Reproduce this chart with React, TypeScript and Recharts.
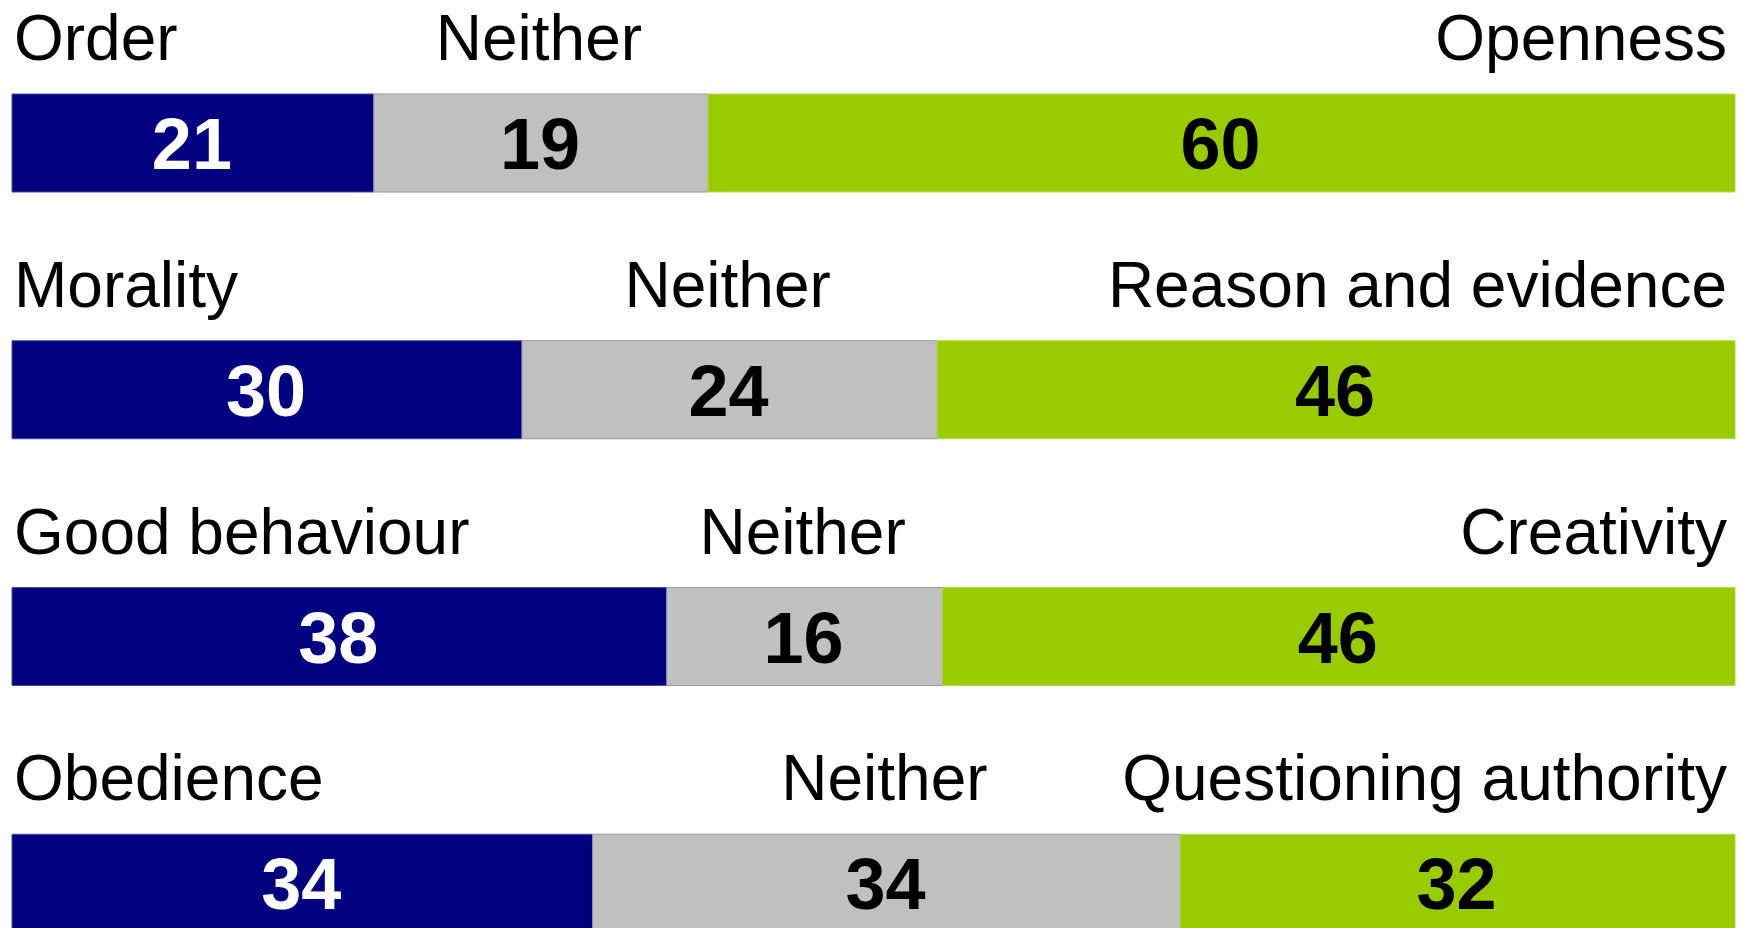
import React from 'react'
import { BarChart, Bar, XAxis, YAxis, LabelList } from 'recharts'

// left-hand option, right-hand option, per statement
const leftLabels = ['Order', 'Morality', 'Good behaviour', 'Obedience']
const rightLabels = ['Openness', 'Reason and evidence', 'Creativity', 'Questioning authority']
const middleLabel = 'Neither'

// shares in % (labels are rounded)
const leftValues = [21.0, 29.6, 38.0, 33.7]
const neitherValues = [19.4, 24.1, 16.0, 34.1]
const rightValues = [59.6, 46.3, 46.0, 32.2]

const FONT = '"Liberation Sans", Arial, sans-serif'
const BLUE = '#000080'
const GREY = '#C0C0C0'
const GREEN = '#99CC00'

const data = leftLabels.map((name, i) => ({
  left: name,
  right: rightLabels[i],
  neither: middleLabel,
  leftValue: leftValues[i],
  neitherValue: neitherValues[i],
  rightValue: rightValues[i],
}))

// caption sits above the bar: 'start' at bar left, 'middle' over the segment, 'end' at bar right
function captionLabel(anchor: 'start' | 'middle' | 'end') {
  return (props: any) => {
    const { x, y, width, value } = props
    let tx = x + 2
    if (anchor === 'middle') tx = x + width / 2 - 2
    if (anchor === 'end') tx = x + width - 8
    return (
      <text x={tx} y={y - 34} textAnchor={anchor} fontFamily={FONT} fontSize={64} fill="#000">
        {value}
      </text>
    )
  }
}

function numberLabel(color: string) {
  return (props: any) => {
    const { x, y, width, height, value } = props
    return (
      <text
        x={x + width / 2 - 1}
        y={y + height / 2 + 26}
        textAnchor="middle"
        fontFamily={FONT}
        fontSize={72}
        fontWeight="bold"
        fill={color}
      >
        {Math.round(value)}
      </text>
    )
  }
}

export default function App() {
  return (
    <div
      style={{
        position: 'absolute',
        left: 0,
        top: 0,
        width: 1743,
        height: 928,
        overflow: 'hidden',
        background: '#fff',
      }}
    >
      <BarChart
        width={1743}
        height={1010}
        data={data}
        layout="vertical"
        margin={{ top: 20, right: 8, bottom: 3, left: 12 }}
        barSize={98}
      >
        <XAxis type="number" domain={[0, 100]} hide />
        <YAxis type="category" dataKey="left" hide width={0} />
        <Bar dataKey="leftValue" stackId="a" fill={BLUE} stroke="#4a4aa0" strokeWidth={1} isAnimationActive={false}>
          <LabelList dataKey="leftValue" content={numberLabel('#fff')} />
          <LabelList dataKey="left" content={captionLabel('start')} />
        </Bar>
        <Bar dataKey="neitherValue" stackId="a" fill={GREY} stroke="#999999" strokeWidth={1} isAnimationActive={false}>
          <LabelList dataKey="neitherValue" content={numberLabel('#000')} />
          <LabelList dataKey="neither" content={captionLabel('middle')} />
        </Bar>
        <Bar dataKey="rightValue" stackId="a" fill={GREEN} stroke="#b3d94d" strokeWidth={1} isAnimationActive={false}>
          <LabelList dataKey="rightValue" content={numberLabel('#000')} />
          <LabelList dataKey="right" content={captionLabel('end')} />
        </Bar>
      </BarChart>
    </div>
  )
}
